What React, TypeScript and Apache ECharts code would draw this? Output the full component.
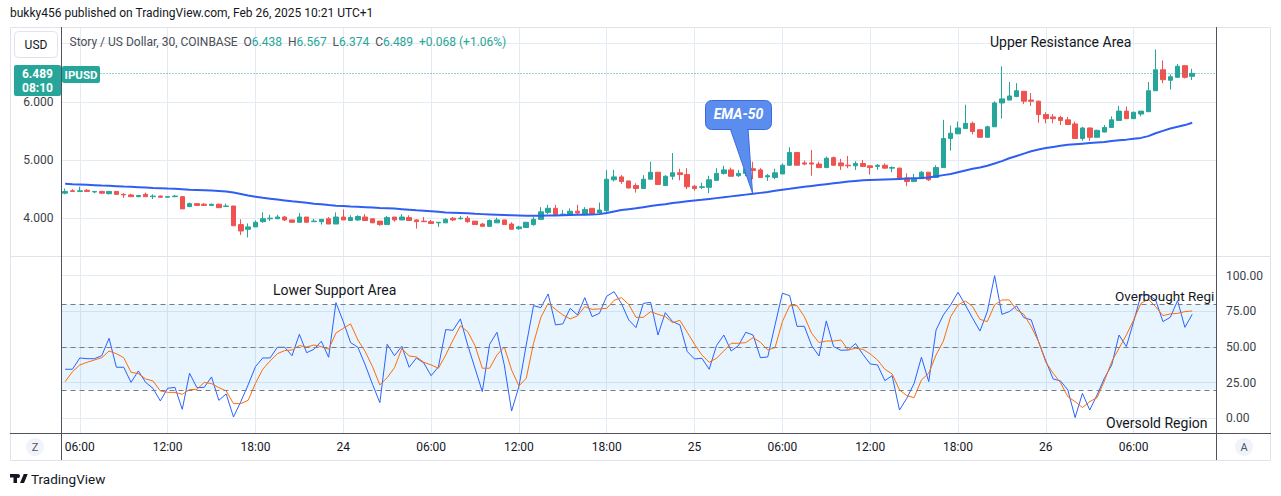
import React, { useEffect, useRef } from 'react';
import * as echarts from 'echarts';

// ---- Data (Story / US Dollar, 30 min, Feb 23 05:00 -> Feb 26 10:00) ----
const opens = [
  4.43, 4.47, 4.46, 4.48, 4.45, 4.46, 4.42, 4.46, 4.41, 4.40,
  4.37, 4.41, 4.37, 4.38, 4.36, 4.37, 4.37, 4.20, 4.25, 4.24,
  4.22, 4.24, 4.20, 4.21, 3.89, 3.81, 3.85, 3.94, 3.99, 3.99,
  4.02, 3.97, 3.93, 4.02, 3.94, 3.94, 3.99, 3.90, 4.02, 3.96,
  3.97, 4.02, 3.99, 3.95, 3.89, 4.02, 3.97, 4.01, 3.97, 3.95,
  3.94, 3.92, 3.92, 4.00, 3.99, 4.00, 3.95, 3.90, 3.86, 3.92,
  3.97, 3.90, 3.82, 3.84, 3.89, 3.98, 4.10, 4.17, 4.06, 4.06,
  4.12, 4.07, 4.17, 4.09, 4.13, 4.66, 4.71, 4.64, 4.56, 4.51,
  4.67, 4.79, 4.56, 4.72, 4.78, 4.75, 4.55, 4.53, 4.53, 4.65,
  4.77, 4.83, 4.73, 4.77, 4.85, 4.83, 4.71, 4.70, 4.76, 4.91,
  5.13, 4.95, 4.95, 4.93, 4.87, 5.04, 4.95, 4.91, 4.90, 4.94,
  4.90, 4.89, 4.91, 4.86, 4.86, 4.69, 4.63, 4.68, 4.79, 4.70,
  4.87, 5.37, 5.45, 5.54, 5.63, 5.52, 5.39, 5.57, 5.98, 6.03,
  6.09, 6.18, 6.03, 6.01, 5.78, 5.74, 5.73, 5.69, 5.62, 5.37,
  5.55, 5.39, 5.48, 5.56, 5.68, 5.84, 5.71, 5.79, 5.83, 6.19,
  6.55, 6.37, 6.42, 6.62, 6.438,
];
const highs = [
  4.51, 4.50, 4.54, 4.50, 4.46, 4.47, 4.47, 4.46, 4.43, 4.42,
  4.40, 4.44, 4.41, 4.39, 4.38, 4.40, 4.38, 4.27, 4.25, 4.26,
  4.25, 4.25, 4.25, 4.21, 3.98, 3.91, 3.96, 4.10, 4.06, 4.06,
  4.04, 3.97, 4.09, 4.02, 3.99, 3.98, 4.02, 4.10, 4.15, 4.05,
  4.05, 4.07, 3.99, 3.95, 4.04, 4.02, 4.07, 4.05, 3.98, 4.02,
  3.97, 3.93, 4.00, 4.02, 4.04, 4.04, 3.95, 3.92, 3.98, 4.01,
  3.97, 3.93, 3.87, 3.93, 4.02, 4.19, 4.23, 4.23, 4.14, 4.17,
  4.23, 4.19, 4.17, 4.27, 4.83, 4.83, 4.74, 4.64, 4.60, 4.74,
  4.97, 4.79, 4.74, 5.12, 4.85, 4.86, 4.57, 4.61, 4.73, 4.86,
  4.90, 4.87, 4.83, 5.00, 4.97, 4.86, 4.76, 4.85, 4.94, 5.22,
  5.13, 4.99, 5.17, 4.97, 5.06, 5.06, 5.02, 5.07, 4.98, 5.00,
  4.90, 4.93, 4.94, 4.89, 4.87, 4.77, 4.76, 4.81, 4.79, 4.91,
  5.69, 5.59, 5.66, 5.95, 5.66, 5.53, 5.59, 6.01, 6.61, 6.34,
  6.32, 6.18, 6.15, 6.02, 5.82, 5.79, 5.76, 5.74, 5.66, 5.57,
  5.56, 5.52, 5.60, 5.75, 5.93, 5.92, 5.83, 5.84, 6.34, 6.90,
  6.71, 6.47, 6.65, 6.63, 6.567,
];
const lows = [
  4.41, 4.45, 4.45, 4.45, 4.43, 4.42, 4.41, 4.41, 4.35, 4.37,
  4.36, 4.37, 4.33, 4.35, 4.36, 4.36, 4.16, 4.19, 4.21, 4.21,
  4.22, 4.18, 4.20, 3.87, 3.71, 3.67, 3.85, 3.92, 3.95, 3.99,
  3.95, 3.93, 3.93, 3.93, 3.94, 3.89, 3.90, 3.90, 3.97, 3.96,
  3.95, 3.96, 3.92, 3.87, 3.89, 3.94, 3.97, 3.96, 3.82, 3.94,
  3.90, 3.85, 3.92, 3.95, 3.98, 3.92, 3.89, 3.86, 3.86, 3.92,
  3.89, 3.81, 3.80, 3.84, 3.87, 3.98, 4.07, 4.06, 4.05, 4.06,
  4.07, 4.05, 4.08, 4.09, 4.09, 4.63, 4.59, 4.51, 4.44, 4.51,
  4.67, 4.58, 4.56, 4.66, 4.65, 4.50, 4.47, 4.50, 4.43, 4.65,
  4.75, 4.72, 4.71, 4.72, 4.67, 4.70, 4.64, 4.67, 4.76, 4.91,
  4.91, 4.91, 4.73, 4.86, 4.86, 4.90, 4.83, 4.86, 4.83, 4.88,
  4.75, 4.83, 4.86, 4.79, 4.68, 4.55, 4.63, 4.68, 4.64, 4.70,
  4.87, 5.16, 5.45, 5.54, 5.44, 5.39, 5.39, 5.57, 5.71, 6.03,
  6.08, 5.96, 5.93, 5.64, 5.63, 5.63, 5.60, 5.61, 5.37, 5.33,
  5.33, 5.39, 5.48, 5.56, 5.68, 5.71, 5.71, 5.75, 5.83, 6.19,
  6.32, 6.21, 6.42, 6.40, 6.374,
];
const closes = [
  4.46, 4.46, 4.47, 4.46, 4.46, 4.43, 4.46, 4.41, 4.40, 4.37,
  4.39, 4.37, 4.38, 4.36, 4.37, 4.38, 4.16, 4.25, 4.22, 4.22,
  4.24, 4.18, 4.21, 3.87, 3.78, 3.85, 3.93, 3.99, 4.00, 4.02,
  3.97, 3.93, 4.02, 3.93, 3.95, 3.98, 3.90, 4.02, 3.97, 4.01,
  4.03, 3.96, 3.92, 3.89, 4.01, 3.97, 4.02, 3.96, 3.94, 3.94,
  3.91, 3.93, 3.98, 3.97, 4.00, 3.94, 3.89, 3.86, 3.96, 3.97,
  3.89, 3.81, 3.85, 3.93, 3.98, 4.11, 4.17, 4.06, 4.07, 4.12,
  4.09, 4.15, 4.08, 4.14, 4.67, 4.71, 4.63, 4.52, 4.51, 4.67,
  4.79, 4.58, 4.72, 4.78, 4.75, 4.54, 4.51, 4.54, 4.66, 4.77,
  4.83, 4.72, 4.77, 4.85, 4.82, 4.70, 4.73, 4.78, 4.91, 5.13,
  4.91, 4.93, 4.93, 4.87, 5.03, 4.91, 4.90, 4.90, 4.94, 4.89,
  4.87, 4.91, 4.86, 4.87, 4.68, 4.63, 4.68, 4.79, 4.66, 4.87,
  5.37, 5.46, 5.55, 5.63, 5.49, 5.39, 5.57, 5.98, 6.05, 6.10,
  6.19, 6.01, 6.01, 5.78, 5.71, 5.71, 5.68, 5.61, 5.37, 5.55,
  5.39, 5.51, 5.56, 5.69, 5.84, 5.71, 5.82, 5.84, 6.19, 6.55,
  6.38, 6.43, 6.61, 6.421, 6.489,
];
const ema50 = [
  4.59, 4.584, 4.579, 4.573, 4.567, 4.561, 4.556, 4.55, 4.544, 4.539,
  4.533, 4.527, 4.521, 4.516, 4.51, 4.505, 4.499, 4.49, 4.485, 4.48,
  4.475, 4.468, 4.46, 4.44, 4.415, 4.39, 4.37, 4.35, 4.335, 4.32,
  4.305, 4.29, 4.28, 4.265, 4.25, 4.24, 4.225, 4.215, 4.21, 4.20,
  4.195, 4.19, 4.185, 4.175, 4.17, 4.165, 4.155, 4.145, 4.135, 4.13,
  4.12, 4.11, 4.10, 4.095, 4.09, 4.085, 4.075, 4.07, 4.065, 4.06,
  4.055, 4.05, 4.045, 4.04, 4.04, 4.04, 4.045, 4.045, 4.05, 4.055,
  4.06, 4.06, 4.065, 4.07, 4.09, 4.115, 4.14, 4.155, 4.17, 4.19,
  4.21, 4.225, 4.24, 4.26, 4.275, 4.29, 4.305, 4.315, 4.33, 4.345,
  4.36, 4.375, 4.39, 4.405, 4.42, 4.435, 4.45, 4.47, 4.49, 4.505,
  4.525, 4.54, 4.555, 4.57, 4.585, 4.60, 4.615, 4.63, 4.64, 4.65,
  4.655, 4.66, 4.665, 4.67, 4.675, 4.68, 4.685, 4.69, 4.70, 4.72,
  4.74, 4.76, 4.79, 4.82, 4.85, 4.87, 4.90, 4.94, 4.98, 5.03,
  5.07, 5.11, 5.15, 5.18, 5.205, 5.225, 5.245, 5.26, 5.27, 5.28,
  5.29, 5.30, 5.31, 5.325, 5.34, 5.35, 5.365, 5.38, 5.41, 5.46,
  5.50, 5.54, 5.57, 5.60, 5.64,
];
const stochK = [
  34.4, 34.4, 42.3, 41.8, 41.8, 43.9, 56.1, 35.8, 35.8, 25.2,
  33.2, 25.2, 21.0, 12.2, 21.0, 21.7, 6.3, 31.6, 21.5, 21.7,
  29.0, 12.6, 17.1, 0.9, 11.7, 23.4, 36.2, 42.3, 42.3, 49.8,
  49.8, 43.9, 58.9, 46.0, 48.4, 54.0, 42.8, 81.1, 67.8, 53.1,
  49.8, 37.4, 23.8, 11.0, 51.9, 43.9, 50.5, 35.8, 42.3, 38.8,
  29.9, 36.0, 62.2, 61.7, 69.7, 51.4, 35.1, 18.7, 51.9, 60.3,
  37.4, 5.1, 22.2, 51.4, 79.0, 77.6, 87.2, 65.5, 66.2, 77.1,
  72.5, 84.6, 71.3, 73.6, 85.6, 88.8, 80.6, 69.0, 63.6, 80.6,
  81.3, 58.4, 74.1, 67.8, 65.5, 46.8, 41.6, 42.1, 34.4, 51.0,
  58.4, 47.2, 51.0, 60.3, 58.4, 42.5, 43.0, 65.5, 87.7, 86.0,
  64.5, 64.5, 51.0, 43.7, 68.3, 50.3, 47.7, 47.9, 52.4, 44.9,
  38.1, 37.4, 26.4, 29.9, 5.8, 14.0, 24.5, 42.8, 25.7, 61.9,
  72.5, 79.5, 88.4, 79.5, 70.1, 61.2, 74.8, 100, 72.9, 74.8,
  78.8, 70.6, 69.0, 53.8, 40.2, 27.6, 26.2, 19.9, 0.5, 17.5,
  5.8, 16.4, 28.1, 37.4, 58.4, 50.3, 67.8, 86.5, 86.5, 83.0,
  67.8, 70.8, 82.5, 63.8, 72.9,
];
const stochD = [
  25.7, 32.7, 37.4, 39.3, 40.9, 42.5, 47.2, 45.3, 42.5, 32.3,
  31.3, 27.6, 26.2, 19.2, 18.2, 18.2, 16.8, 20.1, 20.3, 25.2,
  24.3, 21.5, 19.2, 10.3, 10.3, 12.6, 24.5, 34.4, 40.2, 45.3,
  47.5, 47.9, 51.0, 50.0, 51.4, 50.3, 48.4, 59.8, 63.1, 66.2,
  54.9, 46.8, 36.2, 23.4, 28.5, 35.5, 48.9, 43.7, 43.0, 39.3,
  37.4, 35.1, 44.4, 54.9, 64.8, 60.8, 51.0, 35.1, 35.1, 44.4,
  50.0, 33.9, 22.7, 28.0, 52.6, 70.8, 80.6, 76.4, 72.5, 69.7,
  71.8, 78.3, 76.4, 76.7, 77.1, 82.7, 84.6, 79.9, 70.8, 70.8,
  74.8, 72.9, 71.3, 67.1, 68.7, 60.3, 51.9, 44.4, 39.3, 42.1,
  47.2, 52.6, 52.6, 53.1, 56.6, 53.3, 47.9, 49.6, 67.8, 79.0,
  79.0, 71.3, 59.6, 53.1, 54.2, 54.2, 54.9, 47.9, 49.1, 48.4,
  45.1, 40.9, 34.4, 31.1, 19.9, 15.9, 14.5, 26.9, 31.6, 44.4,
  54.2, 71.3, 79.5, 82.3, 78.3, 69.4, 67.8, 79.5, 83.0, 83.0,
  76.0, 72.9, 64.3, 53.8, 39.3, 31.6, 25.0, 15.2, 11.7, 7.5,
  11.7, 14.5, 26.2, 39.7, 49.1, 58.4, 69.0, 80.6, 83.5, 78.3,
  72.0, 73.2, 73.6, 74.8, 75.3,
];
const timeTickIdx = [2, 14, 26, 38, 50, 62, 74, 86, 98, 110, 122, 134, 146];
const timeLabels = ['06:00', '12:00', '18:00', '24', '06:00', '12:00', '18:00', '25', '06:00', '12:00', '18:00', '26', '06:00'];
const priceGridValues = [4, 5, 6, 7];
const priceLabelValues = [4, 5, 6];
const oscTickValues = [0, 25, 50, 75, 100];
const oscLevels = [80, 50, 20];

const FONT = 'Roboto, "Liberation Sans", Arial, sans-serif';
const GRID_COLOR = '#e4ebf2';
const UP = '#26a69a';
const DOWN = '#ef5350';
const TEXT = '#131722';

const TV_PATH = 'M14 22H7V11H0V4h14v18zM28 22h-8l7.5-18h8L28 22z';
let registered = false;

export default function App() {
  const ref = useRef<HTMLDivElement>(null);

  useEffect(() => {
    document.body.style.margin = '0';
    if (!registered) {
      echarts.graphic.registerShape('tvlogo', echarts.graphic.extendPath(TV_PATH, {}) as any);
      registered = true;
    }
    const chart = echarts.init(ref.current!, null, { renderer: 'svg' });

    const n = closes.length;
    const last = n - 1;
    const chg = closes[last] - closes[last - 1];
    const pct = (chg / closes[last - 1]) * 100;
    const sign = chg >= 0 ? '+' : '';

    const candleData = opens.map((o, i) => [i, o, closes[i], lows[i], highs[i]]);
    const emaData = ema50.map((v, i) => [i, v]);
    const kData = stochK.map((v, i) => [i, v]);
    const dData = stochD.map((v, i) => [i, v]);

    const xCommon = {
      type: 'value',
      min: -0.5,
      max: 157.25,
      axisLine: { show: false },
      axisTick: { show: false, customValues: timeTickIdx },
      splitLine: { show: true, lineStyle: { color: GRID_COLOR, width: 1 } },
    };

    const txt = (text: string, x: number, y: number, size: number, extra: any = {}, z = 100) => ({
      type: 'text',
      x,
      y,
      z,
      silent: true,
      style: {
        text,
        fill: TEXT,
        fontSize: size,
        fontFamily: FONT,
        textAlign: 'left',
        textVerticalAlign: 'middle',
        ...extra,
      },
    });
    const line = (x1: number, y1: number, x2: number, y2: number, stroke: string) => ({
      type: 'line',
      z: 90,
      silent: true,
      shape: { x1, y1, x2, y2 },
      style: { stroke, lineWidth: 1 },
    });

    const option: any = {
      animation: false,
      backgroundColor: '#ffffff',
      grid: [
        { left: 61.5, right: 65, top: 27, height: 229, containLabel: false, outerBoundsMode: 'none' },
        { left: 61.5, right: 65, top: 257, height: 176, containLabel: false, outerBoundsMode: 'none' },
      ],
      xAxis: [
        { ...xCommon, gridIndex: 0, axisLabel: { show: false, customValues: timeTickIdx } },
        {
          ...xCommon,
          gridIndex: 1,
          axisLabel: {
            show: true,
            customValues: timeTickIdx,
            margin: 8,
            color: TEXT,
            fontSize: 12,
            fontFamily: FONT,
            formatter: (v: number) => {
              const k = timeTickIdx.indexOf(Math.round(v));
              return k >= 0 ? timeLabels[k] : '';
            },
          },
        },
      ],
      yAxis: [
        {
          type: 'value',
          gridIndex: 0,
          position: 'left',
          min: 3.3505,
          max: 7.2852,
          axisLine: { show: false },
          axisTick: { show: false, customValues: priceGridValues },
          axisLabel: {
            customValues: priceLabelValues,
            margin: 8,
            color: '#3b3e48',
            fontSize: 12,
            fontFamily: FONT,
            formatter: (v: number) => v.toFixed(3),
          },
          splitLine: { show: true, lineStyle: { color: GRID_COLOR, width: 1 } },
        },
        {
          type: 'value',
          gridIndex: 1,
          position: 'right',
          min: -10.31,
          max: 113.11,
          axisLine: { show: false },
          axisTick: { show: false, customValues: oscTickValues },
          axisLabel: {
            customValues: oscTickValues,
            margin: 10,
            color: '#3b3e48',
            fontSize: 12,
            fontFamily: FONT,
            formatter: (v: number) => v.toFixed(2),
          },
          splitLine: { show: true, lineStyle: { color: GRID_COLOR, width: 1 } },
        },
      ],
      series: [
        {
          type: 'candlestick',
          xAxisIndex: 0,
          yAxisIndex: 0,
          data: candleData,
          barWidth: 5,
          z: 3,
          itemStyle: { color: UP, color0: DOWN, borderColor: UP, borderColor0: DOWN, borderWidth: 1 },
          markLine: {
            silent: true,
            symbol: ['none', 'none'],
            label: { show: false },
            lineStyle: { color: UP, type: [1, 2], width: 1 },
            data: [{ yAxis: closes[last] }],
          },
        },
        {
          type: 'line',
          name: 'EMA-50',
          xAxisIndex: 0,
          yAxisIndex: 0,
          data: emaData,
          showSymbol: false,
          z: 4,
          lineStyle: { color: '#2f5ef3', width: 2 },
        },
        {
          type: 'line',
          xAxisIndex: 1,
          yAxisIndex: 1,
          data: dData,
          showSymbol: false,
          silent: true,
          z: 1,
          lineStyle: { opacity: 0, width: 0 },
          markArea: {
            silent: true,
            itemStyle: { color: 'rgba(33,150,243,0.1)' },
            data: [[{ yAxis: oscLevels[2] }, { yAxis: oscLevels[0] }]],
          },
          markLine: {
            silent: true,
            symbol: ['none', 'none'],
            label: { show: false },
            lineStyle: { color: '#787b86', type: [5, 4], width: 1 },
            data: oscLevels.map((v) => ({ yAxis: v })),
          },
        },
        {
          type: 'line',
          name: 'K',
          xAxisIndex: 1,
          yAxisIndex: 1,
          data: kData,
          showSymbol: false,
          z: 3,
          lineStyle: { color: '#2962ff', width: 1 },
        },
        {
          type: 'line',
          name: 'D',
          xAxisIndex: 1,
          yAxisIndex: 1,
          data: dData,
          showSymbol: false,
          z: 4,
          lineStyle: { color: '#ff6d00', width: 1 },
        },
      ],
      graphic: [
        // frame
        { type: 'rect', z: 80, silent: true, shape: { x: 10.5, y: 27.5, width: 1260, height: 433 }, style: { fill: 'none', stroke: '#e0e3eb', lineWidth: 1 } },
        line(10, 256.5, 1271, 256.5, '#e0e3eb'),
        line(61.5, 27, 61.5, 460, '#50535e'),
        line(1216.5, 27, 1216.5, 460, '#50535e'),
        line(10, 433.5, 1271, 433.5, '#50535e'),
        // header
        txt('bukky456 published on TradingView.com, Feb 26, 2025 10:21 UTC+1', 10, 13, 12),
        // USD button
        { type: 'rect', z: 100, silent: true, shape: { x: 14.5, y: 31.5, width: 43, height: 26, r: 4 }, style: { fill: '#ffffff', stroke: '#e0e3eb', lineWidth: 1 } },
        txt('USD', 36, 44.5, 12, { textAlign: 'center' }, 101),
        // legend line
        {
          type: 'text',
          x: 69.5,
          y: 42,
          z: 100,
          silent: true,
          style: {
            text:
              'Story / US Dollar, 30, COINBASE  {g|O}{t|' + opens[last].toFixed(3) + '}  {g|H}{t|' + highs[last].toFixed(3) +
              '}  {g|L}{t|' + lows[last].toFixed(3) + '}  {g|C}{t|' + closes[last].toFixed(3) + '}  {t|' + sign + chg.toFixed(3) +
              ' (' + sign + pct.toFixed(2) + '%)}',
            fill: '#4a4d57',
            fontSize: 12,
            fontFamily: FONT,
            textAlign: 'left',
            textVerticalAlign: 'middle',
            rich: {
              g: { fill: '#4a4d57', fontSize: 12, fontFamily: FONT },
              t: { fill: UP, fontSize: 12, fontFamily: FONT },
            },
          },
        },
        // last price labels
        { type: 'rect', z: 100, silent: true, shape: { x: 14, y: 65, width: 47, height: 31, r: 2 }, style: { fill: UP } },
        txt(closes[last].toFixed(3), 37.5, 74, 12, { fill: '#ffffff', textAlign: 'center', fontWeight: 'bold' }, 101),
        txt('08:10', 37.5, 88, 12, { fill: '#ffffff', textAlign: 'center', fontWeight: 'bold' }, 101),
        { type: 'rect', z: 100, silent: true, shape: { x: 62, y: 66, width: 38, height: 17, r: 2 }, style: { fill: UP } },
        txt('IPUSD', 81, 74.5, 11.5, { fill: '#ffffff', textAlign: 'center', fontWeight: 'bold' }, 101),
        // annotations
        txt('Upper Resistance Area', 990, 42, 14),
        txt('Lower Support Area', 273, 290, 14),
        txt('Overbought Regi', 1115, 296, 13.5),
        txt('Oversold Region', 1106, 423, 14),
        // EMA-50 callout
        { type: 'polygon', z: 110, silent: true, shape: { points: [[730, 128], [748, 128], [752.5, 193]] }, style: { fill: '#5b8def', stroke: '#3d6cd9', lineWidth: 1 } },
        { type: 'rect', z: 111, silent: true, shape: { x: 705.5, y: 100.5, width: 66, height: 29, r: 6 }, style: { fill: '#5b8def', stroke: '#3d6cd9', lineWidth: 1 } },
        { type: 'polygon', z: 112, silent: true, shape: { points: [[731, 128], [747, 128], [751.5, 188]] }, style: { fill: '#5b8def' } },
        txt('EMA-50', 738.5, 114, 14, { fill: '#ffffff', textAlign: 'center', fontStyle: 'italic', fontWeight: 'bold' }, 120),
        // time-axis buttons
        { type: 'circle', z: 100, silent: true, shape: { cx: 35, cy: 447, r: 9 }, style: { fill: '#f0f3fa' } },
        txt('Z', 35, 447.5, 11, { textAlign: 'center', fill: '#50535e' }, 101),
        { type: 'circle', z: 100, silent: true, shape: { cx: 1244, cy: 447, r: 9 }, style: { fill: '#f0f3fa' } },
        txt('A', 1244, 447.5, 11, { textAlign: 'center', fill: '#50535e' }, 101),
        // footer logo
        { type: 'tvlogo', z: 100, silent: true, x: 10, y: 472, scaleX: 0.5, scaleY: 0.5, style: { fill: TEXT } },
        { type: 'circle', z: 100, silent: true, shape: { cx: 18, cy: 476, r: 2 }, style: { fill: TEXT } },
        txt('TradingView', 31, 478.5, 13.5, { fill: TEXT }),
      ],
    };

    chart.setOption(option);
    return () => chart.dispose();
  }, []);

  return <div ref={ref} style={{ width: 1281, height: 496, overflow: 'hidden' }} />;
}
